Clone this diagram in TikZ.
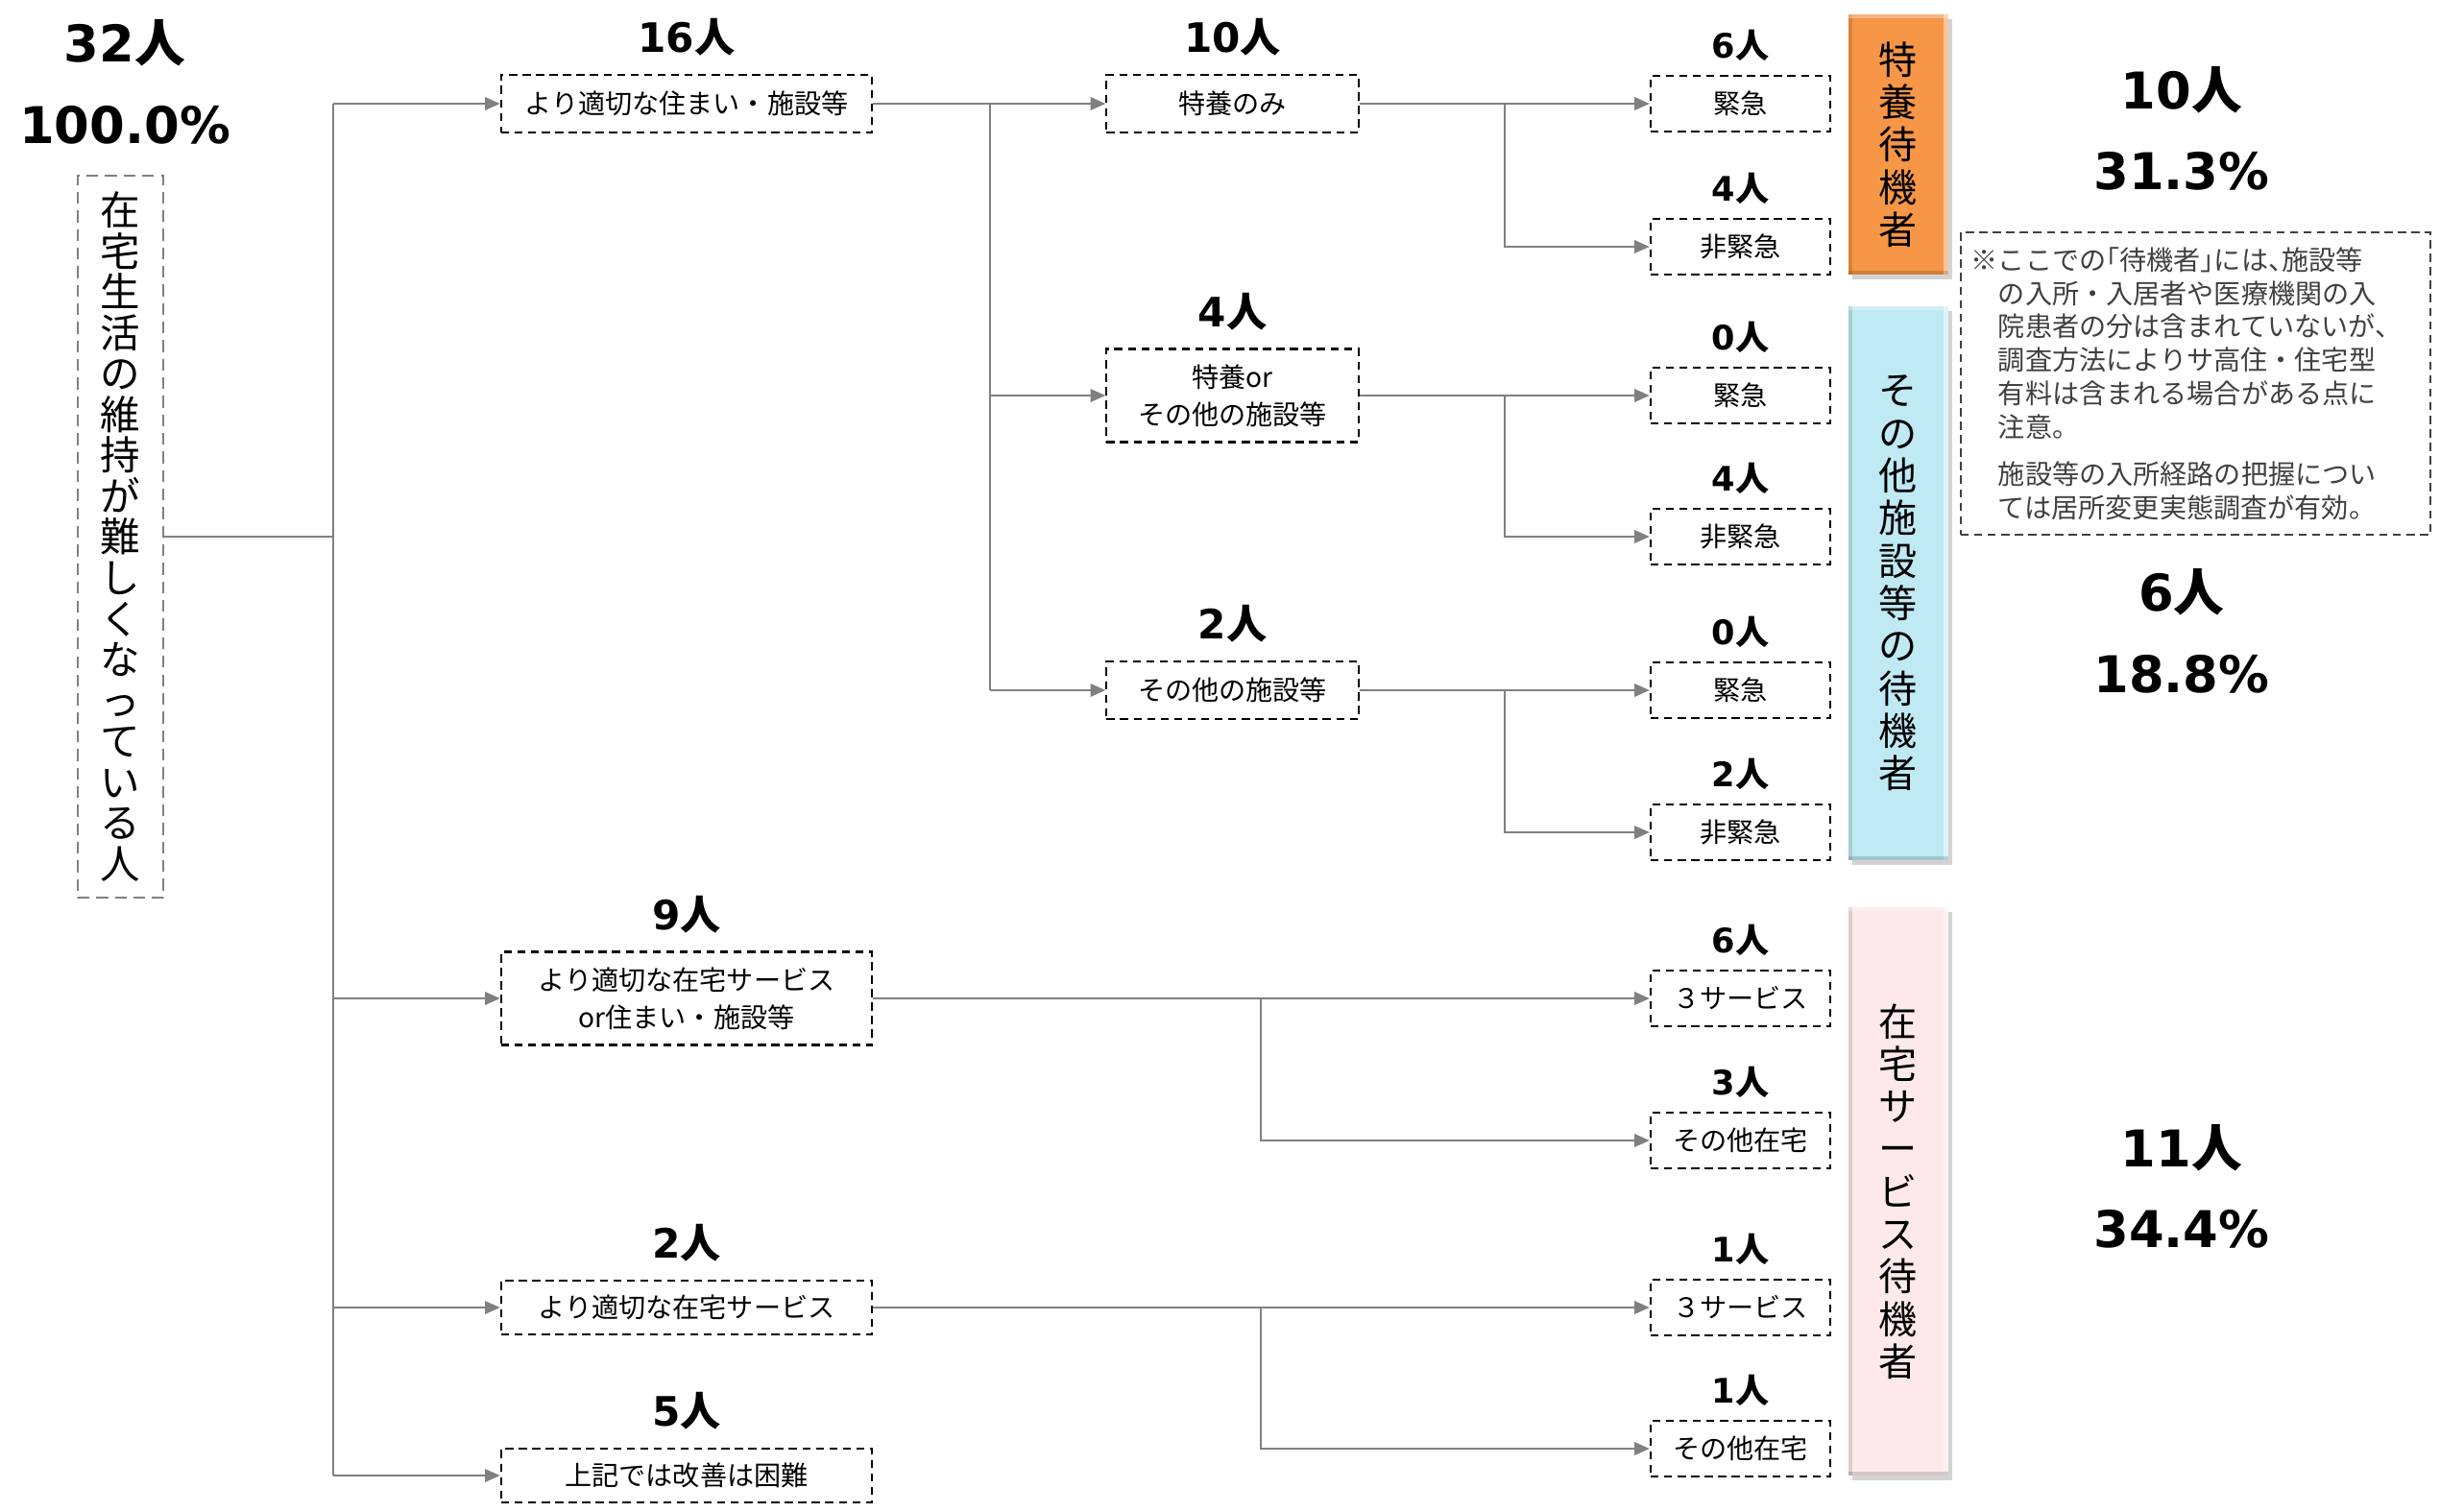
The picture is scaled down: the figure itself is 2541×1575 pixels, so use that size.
\documentclass[tikz,border=0pt]{standalone}
\usepackage{fontspec}
\setmainfont{Noto Sans CJK JP}
\newfontfamily\dvs{DejaVu Sans}
\newfontfamily\jph[RawFeature=+halt]{Noto Sans CJK JP}
\usetikzlibrary{positioning}
\usetikzlibrary{arrows.meta}
\usetikzlibrary{shadows}

\definecolor{tokuyo}{HTML}{F79646}
\definecolor{shisetsu}{HTML}{BFE9F3}
\definecolor{zaitaku}{HTML}{FDE9E9}
\definecolor{linegray}{HTML}{808080}

\newcommand\nin[1]{{\dvs #1}人}

\begin{document}
\begin{tikzpicture}[x=0.01cm,y=-0.01cm,
    box/.style={draw, dash pattern=on 2.4pt off 1.6pt, line width=0.6pt, align=center,
                inner sep=0pt, font=\fontsize{8}{11}\selectfont},
    bbox/.style={box, minimum width=3.86cm, minimum height=0.6cm},
    cbox/.style={box, minimum width=2.62cm, minimum height=0.6cm},
    dbox/.style={box, minimum width=1.87cm, minimum height=0.58cm},
    num/.style={font=\fontsize{12}{12}\selectfont\bfseries, inner sep=0pt},
    numsm/.style={font=\fontsize{10}{10}\selectfont\bfseries, inner sep=0pt},
    big/.style={font=\fontsize{15}{15}\selectfont\bfseries, inner sep=0pt},
    bevel/.style={path picture={
        \fill[white,opacity=.45] ([xshift=-0.05cm]path picture bounding box.north east) rectangle (path picture bounding box.south east);
        \fill[black,opacity=.12] (path picture bounding box.north west) rectangle ([xshift=0.04cm]path picture bounding box.south west);
        \fill[white,opacity=.3] (path picture bounding box.north west) rectangle ([yshift=-0.04cm]path picture bounding box.north east);
        \fill[black,opacity=.15] ([yshift=0.04cm]path picture bounding box.south west) rectangle (path picture bounding box.south east);}},
    bar/.style={bevel, minimum width=1.04cm, inner sep=0pt, align=center,
                font=\fontsize{11.4}{12.6}\selectfont,
                drop shadow={shadow xshift=0.04cm, shadow yshift=-0.05cm, opacity=0.35}},
    wire/.style={draw=linegray, line width=0.7pt},
    conn/.style={wire, -{Triangle[length=4.5pt,width=3.8pt]}},
  ]
  \useasboundingbox (0,0) rectangle (2541,1575);
  % \draw[help lines, step=100] (0,0) grid (2541,1575);

  % start
  \node[big] (totn) at (130,45)  {\nin{32}};
  \node[big] (totp) at (130,130) {{\dvs 100.0\%}};
  \node[box, draw=linegray, dash pattern=on 3.5pt off 2pt, line width=0.5pt,
        minimum width=0.89cm, minimum height=7.52cm,
        font=\fontsize{11.8}{12.1}\selectfont] (start) at (125.5,559)
        {在\\宅\\生\\活\\の\\維\\持\\が\\難\\し\\く\\な\\っ\\て\\い\\る\\人};

  % first split
  \node[bbox]                        (b1) at (715,108)  {より適切な住まい・施設等};
  \node[bbox, minimum height=0.97cm] (b2) at (715,1040) {より適切な在宅サービス\\or住まい・施設等};
  \node[bbox, minimum height=0.56cm] (b3) at (715,1362) {より適切な在宅サービス};
  \node[bbox, minimum height=0.56cm] (b4) at (715,1537) {上記では改善は困難};
  \node[num, above=5pt of b1] (b1n) {\nin{16}};
  \node[num, above=5pt of b2] (b2n) {\nin{9}};
  \node[num, above=5pt of b3] (b3n) {\nin{2}};
  \node[num, above=5pt of b4] (b4n) {\nin{5}};

  % second split
  \node[cbox]                        (c1) at (1283.5,108) {特養のみ};
  \node[cbox, minimum height=0.97cm] (c2) at (1283.5,412) {特養or\\その他の施設等};
  \node[cbox]                        (c3) at (1283.5,719) {その他の施設等};
  \node[num, above=5pt of c1] (c1n) {\nin{10}};
  \node[num, above=5pt of c2] (c2n) {\nin{4}};
  \node[num, above=5pt of c3] (c3n) {\nin{2}};

  % urgency / service
  \node[dbox] (d1)  at (1812.5,108)  {緊急};
  \node[dbox] (d2)  at (1812.5,257)  {非緊急};
  \node[dbox] (d3)  at (1812.5,412)  {緊急};
  \node[dbox] (d4)  at (1812.5,559)  {非緊急};
  \node[dbox] (d5)  at (1812.5,719)  {緊急};
  \node[dbox] (d6)  at (1812.5,867)  {非緊急};
  \node[dbox] (d7)  at (1812.5,1040) {３サービス};
  \node[dbox] (d8)  at (1812.5,1188) {その他在宅};
  \node[dbox] (d9)  at (1812.5,1362) {３サービス};
  \node[dbox] (d10) at (1812.5,1509) {その他在宅};
  \foreach \d/\v in {d1/6,d2/4,d3/0,d4/4,d5/0,d6/2,d7/6,d8/3,d9/1,d10/1}
    \node[numsm, above=4pt of \d] (\d n) {\nin{\v}};

  % junctions
  \coordinate (t0) at (347,0);
  \coordinate (t1) at (1031,0);
  \coordinate (t2) at (1567,0);
  \coordinate (t3) at (1313,0);

  \draw[wire] (start.east) -- (start.east -| t0);
  \draw[wire] (b1.west -| t0) -- (b4.west -| t0);
  \foreach \n in {b1,b2,b3,b4}
    \draw[conn] (\n.west -| t0) -- (\n.west);

  \draw[wire] (b1.east) -- (b1.east -| t1) -- (c3.west -| t1);
  \foreach \n in {c1,c2,c3}
    \draw[conn] (\n.west -| t1) -- (\n.west);

  \foreach \s/\u/\l in {c1/d1/d2, c2/d3/d4, c3/d5/d6} {
    \draw[conn] (\s.east) -- (\u.west);
    \draw[conn] (\s.east -| t2) |- (\l.west);
  }
  \foreach \s/\u/\l in {b2/d7/d8, b3/d9/d10} {
    \draw[conn] (\s.east) -- (\u.west);
    \draw[conn] (\s.east -| t3) |- (\l.west);
  }

  % waiting groups
  \node[bar, fill=tokuyo,   minimum height=2.71cm] (w1) at (1977,150.5) {特\\養\\待\\機\\者};
  \node[bar, fill=shisetsu, minimum height=5.77cm] (w2) at (1977,607.5) {そ\\の\\他\\施\\設\\等\\の\\待\\機\\者};
  \node[bar, fill=zaitaku,  minimum height=5.92cm] (w3) at (1977,1241)  {在\\宅\\サ\\ー\\ビ\\ス\\待\\機\\者};

  \node[big] (w1n) at (2272,94)   {\nin{10}};
  \node[big] (w1p) at (2272,178)  {{\dvs 31.3\%}};
  \node[big] (w2n) at (2272,617)  {\nin{6}};
  \node[big] (w2p) at (2272,702)  {{\dvs 18.8\%}};
  \node[big] (w3n) at (2272,1196) {\nin{11}};
  \node[big] (w3p) at (2272,1280) {{\dvs 34.4\%}};

  % note
  \node[draw=black!75, dash pattern=on 2.4pt off 1.6pt, line width=0.6pt,
        text=black!75, align=left, text width=4.11cm, inner xsep=0.39cm, inner ysep=0pt,
        minimum height=3.15cm, font=\fontsize{8}{9.9}\selectfont] (note) at (2286.5,399.5)
    {\llap{※}ここでの{\jph 「}待機者{\jph 」}には{\jph 、}施設等\\
     の入所・入居者や医療機関の入\\
     院患者の分は含まれていないが、\\
     調査方法によりサ高住・住宅型\\
     有料は含まれる場合がある点に\\
     注意。\\[4pt]
     施設等の入所経路の把握につい\\
     ては居所変更実態調査が有効。};
\end{tikzpicture}
\end{document}
